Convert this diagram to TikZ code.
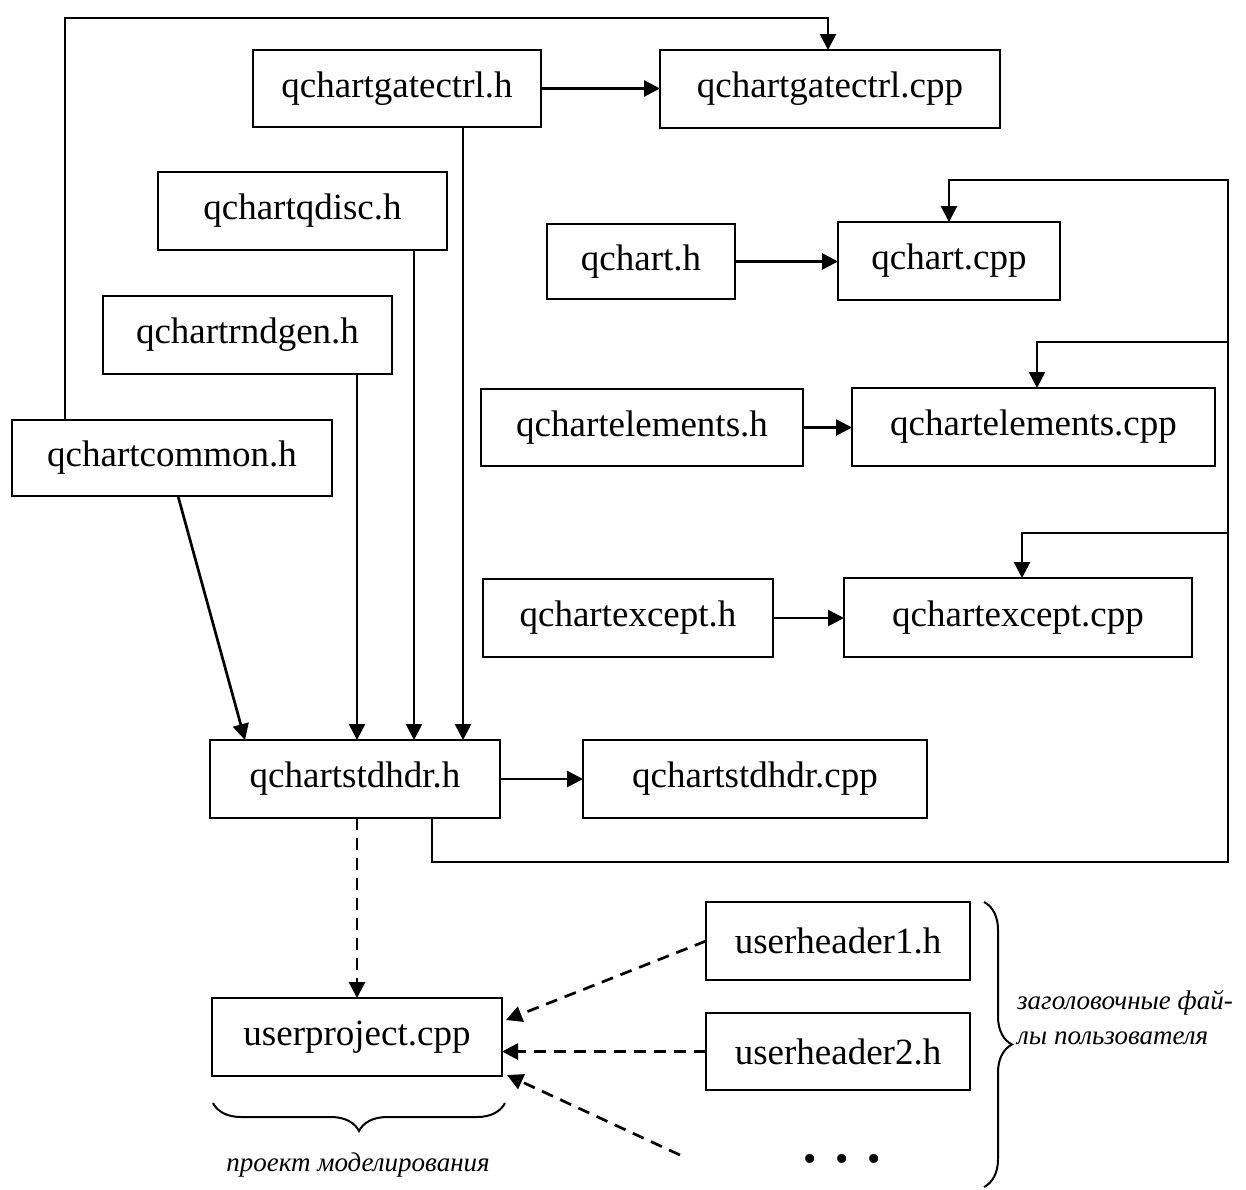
\documentclass[tikz,border=0pt]{standalone}
\usepackage{fontspec}
\setmainfont{Liberation Serif}
\usetikzlibrary{arrows.meta,decorations.pathreplacing}
\tikzset{
  box/.style={draw, line width=2pt, inner sep=0pt, outer sep=0pt, font=\fontsize{37}{44}\selectfont},
  arr/.style={line width=2.7pt, -{Triangle[length=16pt,width=16pt]}},
  darr/.style={arr, dash pattern=on 12pt off 8pt},
  brc/.style={line width=2pt, decorate, decoration={brace, amplitude=28pt}},
  lbl/.style={font=\itshape\fontsize{27}{35}\selectfont, inner sep=0pt}
}
\begin{document}
\begin{tikzpicture}[x=1pt,y=-1pt]
\useasboundingbox (0,0) rectangle (1246,1189);
% boxes
\node[box, minimum width=288pt, minimum height=77pt] (gh) at (397,88.5) {qchartgatectrl.h};
\node[box, minimum width=340pt, minimum height=78pt] (gc) at (830,89) {qchartgatectrl.cpp};
\node[box, minimum width=289pt, minimum height=78pt] (qd) at (302.5,211) {qchartqdisc.h};
\node[box, minimum width=188pt, minimum height=75pt] (qh) at (641,261.5) {qchart.h};
\node[box, minimum width=222pt, minimum height=78pt] (qc) at (949,261) {qchart.cpp};
\node[box, minimum width=289pt, minimum height=78pt] (rn) at (247.5,335) {qchartrndgen.h};
\node[box, minimum width=320pt, minimum height=76pt] (cm) at (172,458) {qchartcommon.h};
\node[box, minimum width=322pt, minimum height=77pt] (eh) at (642,427.5) {qchartelements.h};
\node[box, minimum width=363pt, minimum height=78pt] (ec) at (1033.5,427) {qchartelements.cpp};
\node[box, minimum width=290pt, minimum height=78pt] (xh) at (628,618) {qchartexcept.h};
\node[box, minimum width=348pt, minimum height=79pt] (xc) at (1018,617.5) {qchartexcept.cpp};
\node[box, minimum width=290pt, minimum height=78pt] (sh) at (355,779) {qchartstdhdr.h};
\node[box, minimum width=344pt, minimum height=78pt] (sc) at (755,779) {qchartstdhdr.cpp};
\node[box, minimum width=264pt, minimum height=78pt] (u1) at (838,941) {userheader1.h};
\node[box, minimum width=264pt, minimum height=77pt] (u2) at (838,1051.5) {userheader2.h};
\node[box, minimum width=290pt, minimum height=78pt] (up) at (357,1037) {userproject.cpp};
\node[inner sep=0pt, font=\fontsize{38}{44}\selectfont] (dots) at (842,1163) {•\hspace{18.5pt}•\hspace{18.5pt}•};
\coordinate (dstart) at (680,1155);
\coordinate (rt) at (1228,180);
\coordinate (rb) at (1228,862);
% horizontal arrows
\draw[arr] (gh.east) -- (gh.east -| gc.west);
\draw[arr] (qh.east) -- (qh.east -| qc.west);
\draw[arr] (eh.east) -- (eh.east -| ec.west);
\draw[arr] (xh.east) -- (xh.east -| xc.west);
\draw[arr] (sh.east) -- (sh.east -| sc.west);
% top loop from common
\draw[arr] ([xshift=-107pt]cm.north) -- ++(0,-402) -| ([xshift=-2pt]gc.north);
% drops into stdhdr
\draw[arr] ([xshift=66pt]gh.south) -- ([xshift=66pt]gh.south |- sh.north);
\draw[arr] ([xshift=111.5pt]qd.south) -- ([xshift=111.5pt]qd.south |- sh.north);
\draw[arr] ([xshift=109.5pt]rn.south) -- ([xshift=109.5pt]rn.south |- sh.north);
\draw[arr] ([xshift=6pt]cm.south) -- ([xshift=-110pt]sh.north);
% big loop from stdhdr
\draw[arr] ([xshift=77pt]sh.south) |- (rb) -- (rt) -| (qc.north);
\draw[arr] (rt |- 0,342) -| ([xshift=3.5pt]ec.north);
\draw[arr] (rt |- 0,533) -| ([xshift=4pt]xc.north);
% dashed
\draw[darr] (sh.south -| up.north) -- (up.north);
\draw[darr] (u1.west) -- ([shift={(4pt,17pt)}]up.east);
\draw[darr] (u2.west) -- (u2.west -| up.east);
\draw[darr] (dstart) -- ([shift={(5pt,-38pt)}]up.east);
% braces
\draw[brc] (984,902) -- (984,1187);
\draw[brc] ([shift={(3pt,-27pt)}]up.south east) -- ([shift={(1pt,-27pt)}]up.south west);
\node[lbl, anchor=north] (lb1) at (358,1153) {проект моделирования};
\node[lbl, anchor=west, align=left] (lb2) at (1017,1018) {заголовочные фай-\\лы пользователя};
\end{tikzpicture}
\end{document}
